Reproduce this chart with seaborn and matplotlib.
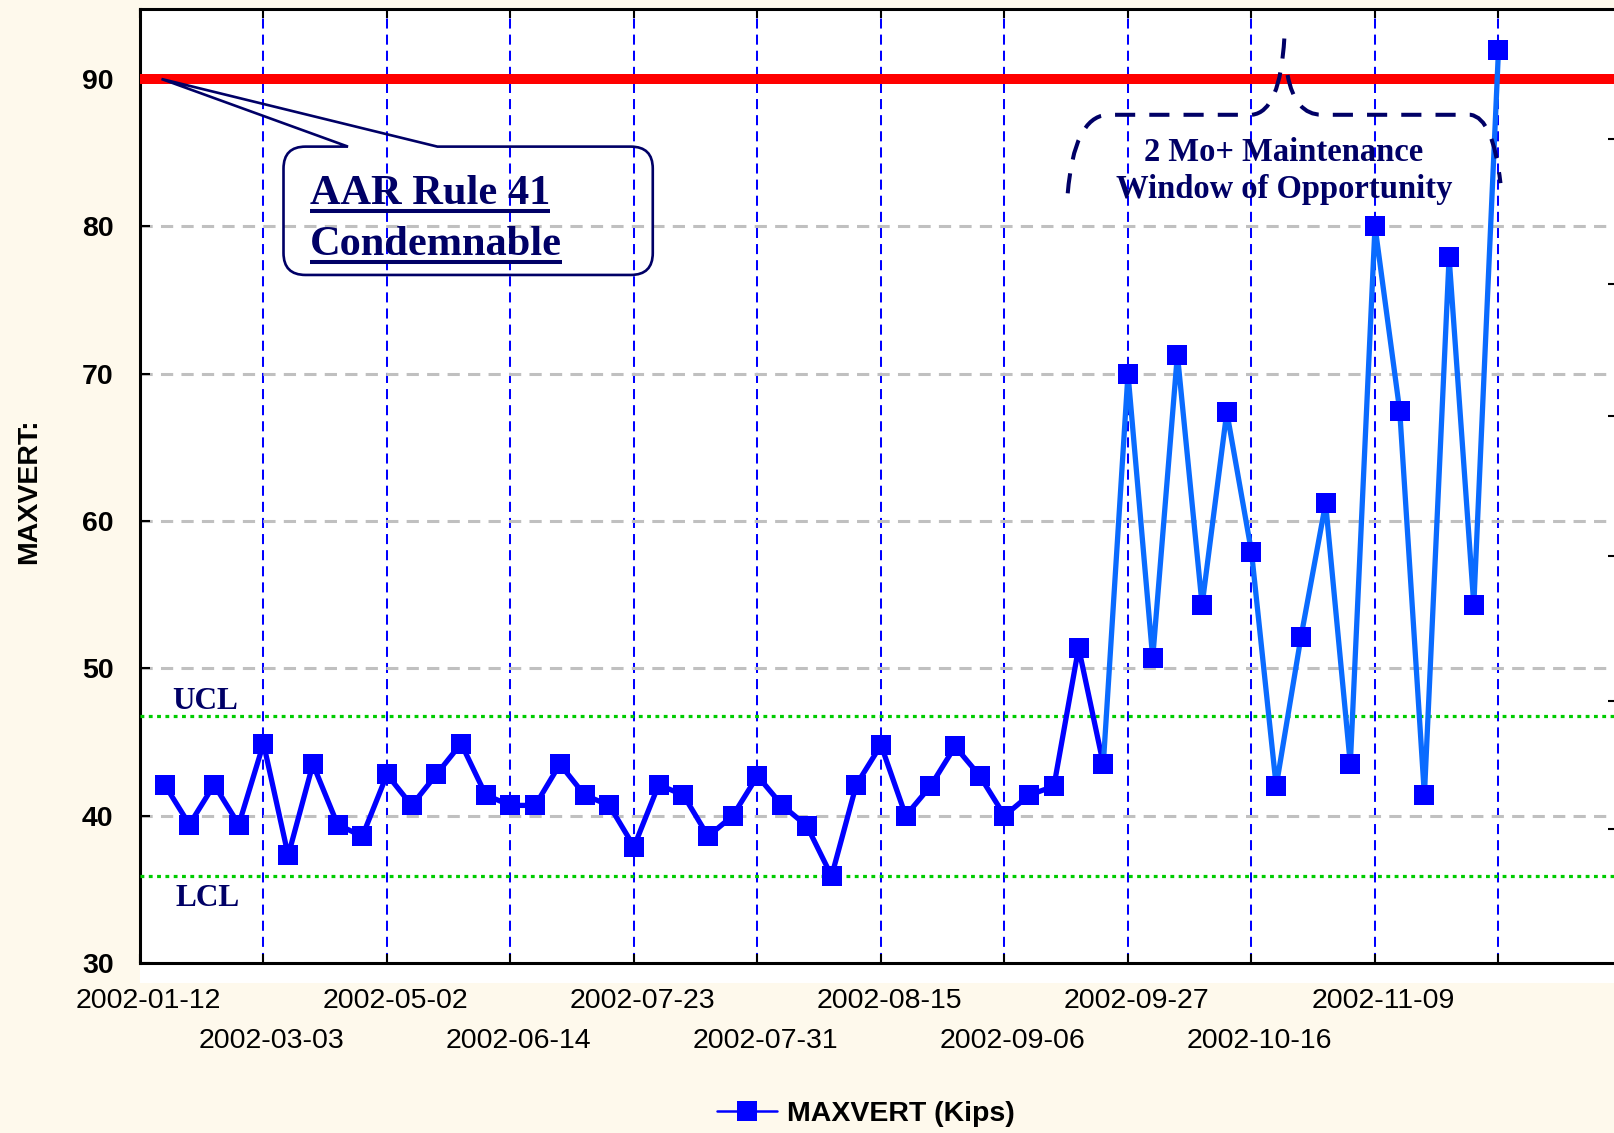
import matplotlib
matplotlib.use("Agg")
import matplotlib.pyplot as plt
import matplotlib.transforms as mtransforms
import numpy as np
import pandas as pd
import seaborn as sns
from matplotlib.lines import Line2D
from matplotlib.patches import PathPatch, Rectangle
from matplotlib.path import Path

# values
maxvert = [42.1, 39.4, 42.1, 39.4, 44.9, 37.3, 43.5, 39.4, 38.6, 42.8,
           40.7, 42.8, 44.9, 41.4, 40.7, 40.7, 43.5, 41.4, 40.7, 37.9,
           42.1, 41.4, 38.6, 40.0, 42.7, 40.7, 39.3, 35.9, 42.1, 44.8,
           40.0, 42.0, 44.7, 42.7, 40.0, 41.4, 42.0, 51.4, 43.5, 70.0,
           50.7, 71.3, 54.3, 67.4, 57.9, 42.0, 52.1, 61.2, 43.5, 80.0,
           67.5, 41.4, 77.9, 54.3, 92.0]
ucl = 46.8
lcl = 35.9
condemn_limit = 90
# one date every 5th sample, starting one step before the first sample
date_labels = ["2002-01-12", "2002-03-03", "2002-05-02", "2002-06-14",
               "2002-07-23", "2002-07-31", "2002-08-15", "2002-09-06",
               "2002-09-27", "2002-10-16", "2002-11-09", ""]
last_dark = 38  # line switches to lighter blue after this sample
y_ticks = [30, 40, 50, 60, 70, 80, 90]
right_ticks = [39.1, 47.8, 57.6, 67.1, 76.1, 85.9]

BG = "#FEF9EC"
DARK = "#0000FF"
LIGHT = "#0A6BFF"
NAVY = "#000066"
SERIF = ["Liberation Serif", "DejaVu Serif"]

sns.set_theme(style="white")
plt.rcParams["font.family"] = ["Liberation Sans", "DejaVu Sans"]
plt.rcParams["text.color"] = "black"

df = pd.DataFrame({"sample": np.arange(len(maxvert)), "maxvert": maxvert})

fig = plt.figure(figsize=(16.15, 11.33), dpi=100, facecolor=BG)
ax = fig.add_axes([140 / 1615, 0.150, 60 * 24.7 / 1615, 0.8418])
ax.set_facecolor("white")
fig.add_artist(Rectangle((140 / 1615, 0.1324), 1, 0.0176, transform=fig.transFigure,
                         facecolor="white", edgecolor="none", zorder=-1))

# series
sns.lineplot(data=df.iloc[:last_dark + 1], x="sample", y="maxvert", color=DARK,
             lw=3.8, ax=ax, zorder=4)
sns.lineplot(data=df.iloc[last_dark:], x="sample", y="maxvert", color=LIGHT,
             lw=3.8, ax=ax, zorder=4)
sns.scatterplot(data=df, x="sample", y="maxvert", marker="s", s=207, color=DARK,
                linewidth=0, ax=ax, zorder=5)

# limit lines
ax.axhline(condemn_limit, color="#FF0000", lw=7.2, zorder=3)
ax.axhline(ucl, color="#00CC00", lw=2.3, ls=(0, (1.2, 1.4)), zorder=3)
ax.axhline(lcl, color="#00CC00", lw=2.3, ls=(0, (1.2, 1.4)), zorder=3)

ax.set_xlim(-1, 59)
ax.set_ylim(30, 94.73)

# x ticks in two staggered rows
tick_pos = np.arange(-1, len(maxvert), 5)
ax.set_xticks(tick_pos[::2])
ax.set_xticklabels(date_labels[::2])
ax.set_xticks(tick_pos[1::2], minor=True)
ax.set_xticklabels(date_labels[1::2], minor=True)
ax.tick_params(axis="x", which="both", direction="in", length=6.5, width=1.5,
               color="black", top=True, bottom=True, labelsize=20.5, labelcolor="black")
ax.tick_params(axis="x", which="major", pad=18)
ax.tick_params(axis="x", which="minor", pad=47)

ax.set_yticks(y_ticks)
ax.tick_params(axis="y", direction="in", length=7, width=1.5, color="black",
               left=True, right=False, labelsize=20.5, pad=19, labelcolor="black")
for t in ax.get_yticklabels():
    t.set_fontweight("bold")

ax.grid(False)
ax.xaxis.grid(True, which="both", color=DARK, ls=(0, (5, 3)), lw=1.45)
ax.yaxis.grid(True, which="major", color="#C0C0C0", ls=(0, (4, 2.7)), lw=2.2)
ax.set_axisbelow(True)

for s in ax.spines.values():
    s.set_visible(True)
    s.set_color("black")
    s.set_linewidth(2.2)

ax.set_xlabel("")
ax.set_ylabel("MAXVERT:", fontsize=20.5, fontweight="bold", color="black")
ax.yaxis.set_label_coords(-0.066, 0.495)

offset = mtransforms.ScaledTranslation(8 / 100, 0, fig.dpi_scale_trans)
for lbl in ax.get_xticklabels(which="both"):
    lbl.set_transform(lbl.get_transform() + offset)

# secondary ticks on the right edge
ax2 = ax.twinx()
ax2.set_ylim(ax.get_ylim())
ax2.set_yticks(right_ticks)
ax2.tick_params(axis="y", direction="in", length=10, width=1.5, color="black",
                right=True, left=False, labelright=False, labelleft=False)
ax2.grid(False)
for s in ax2.spines.values():
    s.set_visible(False)

# UCL / LCL labels
ax.text(0.30, ucl + 0.45, "UCL", fontsize=22.5, family=SERIF, weight="bold",
        color=NAVY, ha="left", va="baseline", zorder=7)
ax.text(0.42, lcl - 2.0, "LCL", fontsize=22.5, family=SERIF, weight="bold",
        color=NAVY, ha="left", va="baseline", zorder=7)

# callout "AAR Rule 41 Condemnable"
L, R, T, B = 4.81, 19.76, 85.41, 76.70
rx, ry = 0.89, 1.49
b1, b2 = 7.42, 11.04
tip = (-0.13, 90.0)
verts = [(b1, T), (L + rx, T), (L, T), (L, T - ry), (L, B + ry), (L, B), (L + rx, B),
         (R - rx, B), (R, B), (R, B + ry), (R, T - ry), (R, T), (R - rx, T),
         (b2, T), tip, (b1, T)]
codes = [Path.MOVETO, Path.LINETO, Path.CURVE3, Path.CURVE3, Path.LINETO,
         Path.CURVE3, Path.CURVE3, Path.LINETO, Path.CURVE3, Path.CURVE3,
         Path.LINETO, Path.CURVE3, Path.CURVE3, Path.LINETO, Path.LINETO,
         Path.CLOSEPOLY]
ax.add_patch(PathPatch(Path(verts, codes), facecolor="none", edgecolor=NAVY,
                       lw=1.9, zorder=6))

callout_lines = [("AAR Rule 41", 81.52), ("Condemnable", 78.06)]
callout_texts = []
for txt, yb in callout_lines:
    t = ax.text(5.88, yb, txt, fontsize=30.5, family=SERIF, weight="bold",
                color=NAVY, ha="left", va="baseline", zorder=7)
    callout_texts.append((t, yb))

# dashed bracket for the maintenance window
verts2 = [(36.56, 82.24), (36.81, 87.38), (38.14, 87.57), (44.02, 87.57),
          (45.16, 87.77), (45.33, 92.77),
          (45.46, 90.27), (45.76, 87.57), (46.85, 87.57), (52.87, 87.57),
          (53.78, 87.36), (54.08, 82.93)]
codes2 = [Path.MOVETO, Path.CURVE3, Path.CURVE3, Path.LINETO, Path.CURVE3, Path.CURVE3,
          Path.MOVETO, Path.CURVE3, Path.CURVE3, Path.LINETO, Path.CURVE3, Path.CURVE3]
ax.add_patch(PathPatch(Path(verts2, codes2), fill=False, edgecolor=NAVY, lw=2.9,
                       ls=(0, (5, 3.5)), capstyle="butt", zorder=6))
ax.text(45.32, 83.75, "2 Mo+ Maintenance\nWindow of Opportunity", ha="center",
        va="center", multialignment="center", fontsize=23.5, family=SERIF,
        weight="bold", color=NAVY, linespacing=1.28, zorder=7)

# legend
handle = Line2D([], [], color=DARK, lw=1.8, marker="s", markersize=14,
                markerfacecolor=DARK, markeredgewidth=0)
fig.legend([handle], ["MAXVERT (Kips)"], loc="center", bbox_to_anchor=(0.536, 0.0168),
           frameon=False, prop={"weight": "bold", "size": 20.5}, labelcolor="black",
           handlelength=2.1, handletextpad=0.35)

# underline the callout text
fig.canvas.draw()
renderer = fig.canvas.get_renderer()
inv = ax.transData.inverted()
for t, yb in callout_texts:
    bb = t.get_window_extent(renderer)
    base_disp = ax.transData.transform((0, yb))[1]
    x0, uy = inv.transform((bb.x0, base_disp - 7))
    x1, _ = inv.transform((bb.x1, base_disp - 7))
    ax.plot([x0, x1], [uy, uy], color=NAVY, lw=2.9, solid_capstyle="butt", zorder=7)

fig.savefig("out.png", dpi=100, facecolor=BG)
plt.close(fig)
